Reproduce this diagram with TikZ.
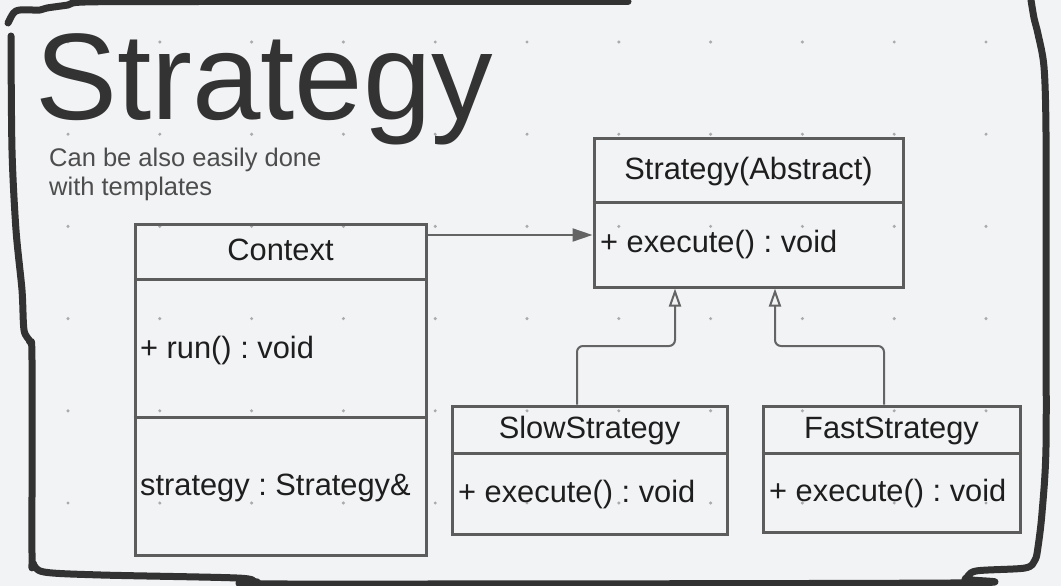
\documentclass[tikz,border=0pt]{standalone}
\usepackage{fontspec}
\setmainfont{Liberation Sans}
\frenchspacing
\usetikzlibrary{arrows.meta,calc}
\definecolor{bg}{RGB}{242,243,245}
\definecolor{ink}{RGB}{30,30,30}
\definecolor{titlec}{RGB}{51,51,51}
\definecolor{subc}{RGB}{77,77,77}
\definecolor{boxc}{RGB}{92,92,92}
\definecolor{conn}{RGB}{100,100,100}
\definecolor{dotc}{RGB}{170,171,174}
\definecolor{bordc}{RGB}{50,50,50}
\tikzset{
  cls/.style={draw=boxc, line width=3pt, rectangle, inner sep=0pt},
  divider/.style={draw=boxc, line width=3pt},
  txt/.style={inner sep=0pt, text=ink, font=\fontsize{30.8}{36}\selectfont},
  bord/.style={draw=bordc, line width=7pt, line cap=round, line join=round},
  assoc/.style={draw=conn, line width=2pt, -{Triangle[length=20pt,width=13pt,fill=conn]}},
  inh/.style={draw=conn, line width=2pt, rounded corners=6pt, -{Triangle[open,length=18pt,width=12pt,fill=bg]}},
}
\begin{document}
\begin{tikzpicture}[x=1pt,y=-1pt]
\fill[bg] (0,0) rectangle (1061,586);
\useasboundingbox (0,0) rectangle (1061,586);
% dot grid
\foreach \i in {0,...,10} {
  \foreach \j in {0,...,5} {
    \fill[dotc] ({68+91.8*\i},{42+92.2*\j}) circle (1.7);
  }
}
% hand-drawn border
\draw[bord] plot[smooth, tension=0.5] coordinates {(8,23) (13.5,13) (20,10) (40,10) (47,8) (68,5) (85,2) (200,1.5) (628,1.5)};
\draw[bord] plot[smooth, tension=0.5] coordinates {(11,36) (12,150) (16,230) (22,290) (24,330) (30,342) (32,360) (32,553) (33,563) (44,572) (101,575) (237,578) (257,582) (290,584) (950,583) (965,579) (976,571) (1025,568) (1035,560) (1038,547) (1042,513) (1046,447) (1046,300) (1046,133) (1044,67) (1038,34) (1034,18) (1031,0)};
% title
\node[anchor=base west, inner sep=0pt, text=titlec, font=\fontsize{123}{130}\selectfont] (title) at (35,120) {Strategy};
\node[anchor=base west, inner sep=0pt, text=subc, font=\fontsize{25.5}{29}\selectfont] (sub1) at (49,166) {Can be also easily done};
\node[anchor=base west, inner sep=0pt, text=subc, font=\fontsize{25.5}{29}\selectfont] (sub2) at (49,195) {with templates};
% classes
\node[cls, minimum width=309pt, minimum height=149pt] (abs) at (748.5,212.5) {};
\draw[divider] ($(abs.north west)+(0,66)$) -- ($(abs.north east)+(0,66)$);
\node[txt, anchor=base] (absname) at (748.5,179) {Strategy(Abstract)};
\node[txt, anchor=base west] (absop) at (600,252) {+ execute() : void};

\node[cls, minimum width=291pt, minimum height=331pt] (ctx) at (280.5,389.5) {};
\draw[divider] ($(ctx.north west)+(0,57)$) -- ($(ctx.north east)+(0,57)$);
\draw[divider] ($(ctx.north west)+(0,195)$) -- ($(ctx.north east)+(0,195)$);
\node[txt, anchor=base] (ctxname) at (280.5,260) {Context};
\node[txt, anchor=base west] (ctxop) at (140,358) {+ run() : void};
\node[txt, anchor=base west] (ctxattr) at (140,495) {strategy : Strategy\&};

\node[cls, minimum width=275pt, minimum height=128pt] (slow) at (589.5,470) {};
\draw[divider] ($(slow.north west)+(0,49)$) -- ($(slow.north east)+(0,49)$);
\node[txt, anchor=base] (slowname) at (589.5,438) {SlowStrategy};
\node[txt, anchor=base west] (slowop) at (458,502) {+ execute() : void};

\node[cls, minimum width=257pt, minimum height=126pt] (fast) at (891.5,469) {};
\draw[divider] ($(fast.north west)+(0,49)$) -- ($(fast.north east)+(0,49)$);
\node[txt, anchor=base] (fastname) at (891.5,438) {FastStrategy};
\node[txt, anchor=base west] (fastop) at (769,501) {+ execute() : void};

% connectors
\coordinate (arow) at (0,235);
\draw[assoc] (ctx.east |- arow) -- (abs.west |- arow);
\coordinate (s1) at (577,346);
\coordinate (s2) at (675,346);
\coordinate (f1) at (884,346);
\coordinate (f2) at (775,346);
\draw[inh] (slow.north -| s1) -- (s1) -- (s2) -- (abs.south -| s2);
\draw[inh] (fast.north -| f1) -- (f1) -- (f2) -- (abs.south -| f2);
\end{tikzpicture}
\end{document}
